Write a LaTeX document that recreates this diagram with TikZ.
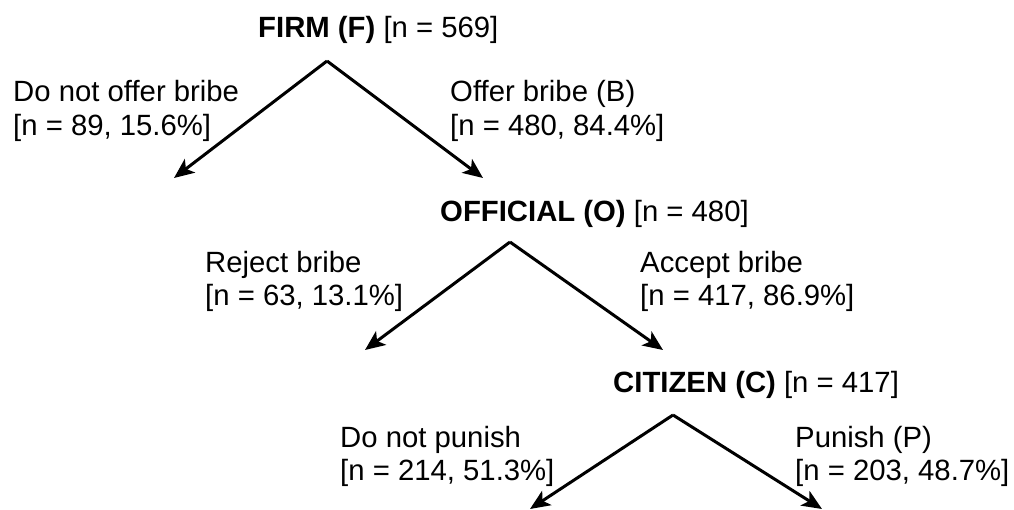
\documentclass[tikz,border=0pt]{standalone}
\usepackage{fontspec}
\setmainfont{Liberation Sans}
\usetikzlibrary{arrows.meta}
\begin{document}
\begin{tikzpicture}[x=1pt,y=-1pt,
  lbl/.style={anchor=base west,inner sep=0pt,font=\fontsize{29.3}{34}\selectfont},
  branch/.style={line width=3pt,-{Stealth[length=20pt,width=17pt,inset=5pt]}}]
\useasboundingbox (0,0) rectangle (1014,510);
\clip (0,0) rectangle (1014,510);
% tree 1
\node[lbl] (firm) at (258,38) {\textbf{FIRM (F)} [n = 569]};
\node[lbl] (nob1) at (13,102) {Do not offer bribe};
\node[lbl] (nob2) at (13,136) {[n = 89, 15.6\%]};
\node[lbl] (ob1) at (450,102) {Offer bribe (B)};
\node[lbl] (ob2) at (450,136) {[n = 480, 84.4\%]};
\coordinate (a1) at (327,61);
\coordinate (l1) at (174,178);
\coordinate (r1) at (483,178);
\draw[branch] (a1) -- (l1);
\draw[branch] (a1) -- (r1);
% tree 2
\node[lbl] (off) at (440,222) {\textbf{OFFICIAL (O)} [n = 480]};
\node[lbl] (rb1) at (205,273) {Reject bribe};
\node[lbl] (rb2) at (205,306) {[n = 63, 13.1\%]};
\node[lbl] (ab1) at (640,273) {Accept bribe};
\node[lbl] (ab2) at (640,306) {[n = 417, 86.9\%]};
\coordinate (a2) at (510,242);
\coordinate (l2) at (365,350);
\coordinate (r2) at (663,350);
\draw[branch] (a2) -- (l2);
\draw[branch] (a2) -- (r2);
% tree 3
\node[lbl] (cit) at (613,392) {\textbf{CITIZEN (C)} [n = 417]};
\node[lbl] (np1) at (340,447) {Do not punish};
\node[lbl] (np2) at (340,480) {[n = 214, 51.3\%]};
\node[lbl] (pu1) at (795,447) {Punish (P)};
\node[lbl] (pu2) at (795,480) {[n = 203, 48.7\%]};
\coordinate (a3) at (673,415);
\coordinate (l3) at (530,509);
\coordinate (r3) at (822,509);
\draw[branch] (a3) -- (l3);
\draw[branch] (a3) -- (r3);
\end{tikzpicture}
\end{document}
